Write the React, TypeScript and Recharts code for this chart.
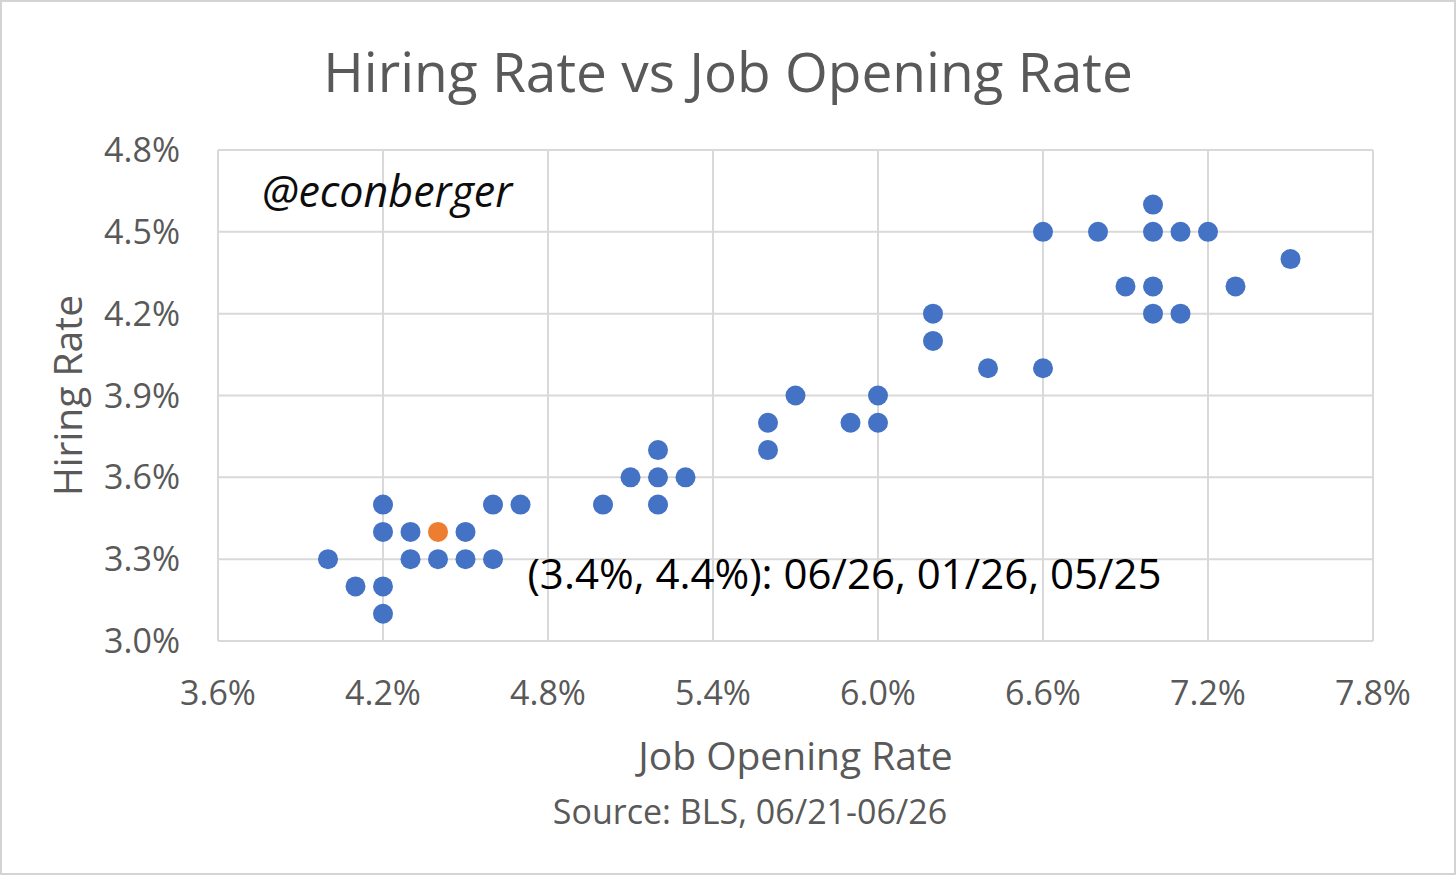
import React from 'react';
import { ScatterChart, Scatter, XAxis, YAxis, CartesianGrid, LabelList, Label } from 'recharts';

// Job opening rate (x) and hiring rate (y), monthly points
const jobOpeningRate = [
  4.0, 4.1, 4.2, 4.2, 4.2, 4.2, 4.3, 4.3, 4.4, 4.5, 4.5, 4.6, 4.6, 4.7,
  5.0, 5.1, 5.2, 5.2, 5.2, 5.3, 5.6, 5.6, 5.7, 5.9, 6.0, 6.0,
  6.2, 6.2, 6.4, 6.6, 6.6, 6.8, 6.9, 7.0, 7.0, 7.0, 7.0, 7.1, 7.1, 7.2, 7.3, 7.5,
];
const hiringRate = [
  3.3, 3.2, 3.2, 3.1, 3.4, 3.5, 3.4, 3.3, 3.3, 3.4, 3.3, 3.3, 3.5, 3.5,
  3.5, 3.6, 3.6, 3.7, 3.5, 3.6, 3.8, 3.7, 3.9, 3.8, 3.9, 3.8,
  4.2, 4.1, 4.0, 4.0, 4.5, 4.5, 4.3, 4.6, 4.5, 4.3, 4.2, 4.5, 4.2, 4.5, 4.3, 4.4,
];

// latest reading, highlighted
const latestJobOpening = [4.4];
const latestHiring = [3.4];
const latestLabel = '(3.4%, 4.4%): 06/26, 01/26, 05/25';

const xTicks = [3.6, 4.2, 4.8, 5.4, 6.0, 6.6, 7.2, 7.8];
const yTicks = [3.0, 3.3, 3.6, 3.9, 4.2, 4.5, 4.8];

const history = jobOpeningRate.map((x, i) => ({ x, y: hiringRate[i] }));
const latest = latestJobOpening.map((x, i) => ({ x, y: latestHiring[i], label: latestLabel }));

const FONT = '"Segoe UI", "Open Sans", sans-serif';
const GREY = '#595959';
const GRID = '#d9d9d9';

const Dot = (fill: string) => (props: any) => (
  <circle cx={props.cx} cy={props.cy} r={10} fill={fill} />
);

const AnnotationLabel = (props: any) => (
  <text
    x={props.x + 94}
    y={props.y + 45}
    dominantBaseline="central"
    fontFamily={FONT}
    fontSize={42}
    fill="#000"
  >
    {props.value}
  </text>
);

const pct = (v: number) => `${v.toFixed(1)}%`;

export default function App() {
  return (
    <div style={{ position: 'relative', width: 1456, height: 875, background: '#fff', fontFamily: FONT }}>
      <style>{`body{margin:0}`}</style>
      <ScatterChart width={1456} height={875} margin={{ top: 150, right: 83, bottom: 0, left: 0 }}>
        <CartesianGrid stroke={GRID} strokeWidth={2} />
        <XAxis
          type="number"
          dataKey="x"
          domain={[3.6, 7.8]}
          ticks={xTicks}
          tickFormatter={pct}
          height={234}
          tickLine={false}
          tickSize={0}
          tickMargin={40}
          axisLine={{ stroke: GRID, strokeWidth: 2 }}
          tick={{ fill: GREY, fontSize: 34, fontFamily: FONT }}
        >
          <Label
            value="Job Opening Rate"
            position="insideTop"
            offset={101}
            style={{ fill: GREY, fontSize: 39, fontFamily: FONT }}
          />
        </XAxis>
        <YAxis
          type="number"
          dataKey="y"
          domain={[3.0, 4.8]}
          ticks={yTicks}
          tickFormatter={pct}
          width={218}
          tickLine={false}
          axisLine={false}
          tickSize={0}
          tickMargin={38}
          tick={{ fill: GREY, fontSize: 34, fontFamily: FONT }}
        >
          <Label
            value="Hiring Rate"
            angle={-90}
            position="insideLeft"
            offset={68}
            style={{ fill: GREY, fontSize: 39, fontFamily: FONT, textAnchor: 'middle' }}
          />
        </YAxis>
        <Scatter data={history} fill="#4472C4" shape={Dot('#4472C4')} isAnimationActive={false} />
        <Scatter data={latest} fill="#ED7D31" shape={Dot('#ED7D31')} isAnimationActive={false}>
          <LabelList dataKey="label" content={AnnotationLabel} />
        </Scatter>
      </ScatterChart>

      <div style={{ position: 'absolute', left: 0, right: 0, top: 38, textAlign: 'center', fontSize: 55, color: GREY, lineHeight: 1.2 }}>
        Hiring Rate vs Job Opening Rate
      </div>
      <div style={{ position: 'absolute', left: 262, top: 165, fontSize: 43, fontStyle: 'italic', color: '#0d0d0d', lineHeight: 1.2 }}>
        @econberger
      </div>
      <div style={{ position: 'absolute', left: 0, width: 1500, top: 791, textAlign: 'center', fontSize: 34, color: GREY, lineHeight: 1.2 }}>
        Source: BLS, 06/21-06/26
      </div>
      <div style={{ position: 'absolute', inset: 0, border: '2px solid #d4d4d4', pointerEvents: 'none' }} />
    </div>
  );
}
